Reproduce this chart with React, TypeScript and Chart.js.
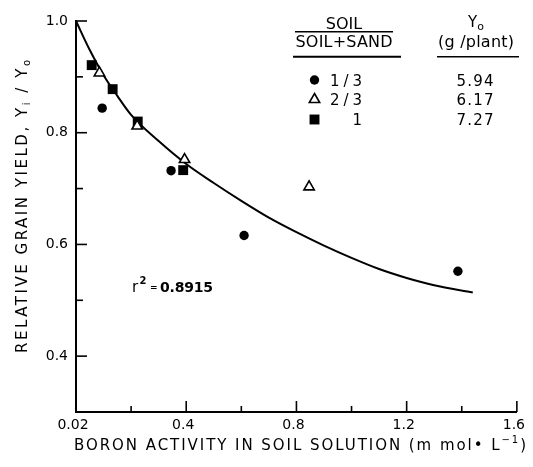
import React, { useEffect, useRef } from 'react';
import { Chart, registerables } from 'chart.js';

Chart.register(...registerables);

// ---- data ----
const soil13X = [0.095, 0.345, 0.61, 1.386];
const soil13Y = [0.844, 0.732, 0.616, 0.552];
const soil23X = [0.085, 0.222, 0.394, 0.846];
const soil23Y = [0.907, 0.812, 0.752, 0.703];
const soil1X = [0.057, 0.133, 0.224, 0.389];
const soil1Y = [0.921, 0.878, 0.82, 0.733];

const fitX = [0, 0.05, 0.1, 0.15, 0.2, 0.3, 0.4, 0.5, 0.6, 0.7, 0.8, 0.9, 1.0, 1.1, 1.2, 1.3, 1.44];
const fitY = [1.0, 0.948, 0.903, 0.866, 0.832, 0.785, 0.744, 0.71, 0.678, 0.648, 0.622, 0.598, 0.576, 0.556, 0.54, 0.527, 0.514];

const xTickValues = [0, 0.2, 0.4, 0.6, 0.8, 1.0, 1.2, 1.4, 1.6];
const xTickLabels = ['0.02', '', '0.4', '', '0.8', '', '1.2', '', '1.6'];
const yTickValues = [0.3, 0.4, 0.5, 0.6, 0.7, 0.8, 0.9, 1.0];
const yTickLabels = ['', '0.4', '', '0.6', '', '0.8', '', '1.0'];

const legendLabels = ['1/3', '2/3', '1'];
const legendY0 = ['5.94', '6.17', '7.27'];
const legendStyles = ['circle', 'triangle', 'square'];
const rSquared = '0.8915';

const FONT = '"DejaVu Sans", sans-serif';

type Seg = { t: string; size: number; dy: number; bold?: boolean };

function drawSegs(
  ctx: CanvasRenderingContext2D,
  segs: Seg[],
  x0: number,
  y0: number,
  target: number | null,
  align: 'left' | 'center' | 'right'
) {
  ctx.save();
  (ctx as any).letterSpacing = '0px';
  let sum = 0;
  let n = 0;
  const widths = segs.map((s) => {
    ctx.font = `${s.bold ? 'bold ' : ''}${s.size}px ${FONT}`;
    const w = ctx.measureText(s.t).width;
    sum += w;
    n += s.t.length;
    return w;
  });
  const sp = target != null && n > 1 ? (target - sum) / (n - 1) : 0;
  const total = sum + sp * (n - 1);
  let x = align === 'center' ? x0 - total / 2 : align === 'right' ? x0 - total : x0;
  ctx.textAlign = 'left';
  ctx.textBaseline = 'alphabetic';
  ctx.fillStyle = '#000';
  segs.forEach((s, i) => {
    ctx.font = `${s.bold ? 'bold ' : ''}${s.size}px ${FONT}`;
    (ctx as any).letterSpacing = `${sp}px`;
    ctx.fillText(s.t, x, y0 + s.dy);
    x += widths[i] + sp * s.t.length;
  });
  ctx.restore();
}

function drawMarker(ctx: CanvasRenderingContext2D, style: string, x: number, y: number) {
  ctx.save();
  ctx.fillStyle = '#000';
  ctx.strokeStyle = '#000';
  if (style === 'circle') {
    ctx.beginPath();
    ctx.arc(x, y, 4.7, 0, Math.PI * 2);
    ctx.fill();
  } else if (style === 'square') {
    const s = 7 * Math.SQRT1_2;
    ctx.fillRect(x - s, y - s, 2 * s, 2 * s);
  } else {
    const r = 6;
    ctx.beginPath();
    for (let k = 0; k < 3; k++) {
      const a = -Math.PI / 2 + (k * 2 * Math.PI) / 3;
      const px = x + r * Math.cos(a);
      const py = y + r * Math.sin(a);
      if (k === 0) ctx.moveTo(px, py);
      else ctx.lineTo(px, py);
    }
    ctx.closePath();
    ctx.fillStyle = '#fff';
    ctx.fill();
    ctx.lineWidth = 1.6;
    ctx.stroke();
  }
  ctx.restore();
}

const decorPlugin = {
  id: 'decor',
  afterDraw(chart: any) {
    const ctx: CanvasRenderingContext2D = chart.ctx;
    const xs = chart.scales.x;
    const ys = chart.scales.y;
    const area = chart.chartArea;
    ctx.save();
    ctx.strokeStyle = '#000';
    ctx.lineWidth = 1.6;
    // inward tick marks
    xs.ticks.forEach((t: any, i: number) => {
      const px = xs.getPixelForValue(t.value);
      const len = xTickLabels[i] ? 11 : 6;
      ctx.beginPath();
      ctx.moveTo(px, area.bottom);
      ctx.lineTo(px, area.bottom - len);
      ctx.stroke();
    });
    ys.ticks.forEach((t: any, i: number) => {
      const py = ys.getPixelForValue(t.value);
      const len = yTickLabels[i] ? 11 : 7;
      ctx.beginPath();
      ctx.moveTo(area.left, py);
      ctx.lineTo(area.left + len, py);
      ctx.stroke();
    });
    ctx.restore();

    // axis titles
    drawSegs(
      ctx,
      [
        { t: 'BORON ACTIVITY IN SOIL SOLUTION (m mol• L', size: 15, dy: 0 },
        { t: '−1', size: 10, dy: -7 },
        { t: ')', size: 15, dy: 0 },
      ],
      74,
      450,
      452,
      'left'
    );
    ctx.save();
    ctx.translate(27, 353);
    ctx.rotate(-Math.PI / 2);
    drawSegs(
      ctx,
      [
        { t: 'RELATIVE GRAIN YIELD, Y', size: 15, dy: 0 },
        { t: 'i', size: 10, dy: 3 },
        { t: ' / Y', size: 15, dy: 0 },
        { t: 'o', size: 10, dy: 3 },
      ],
      0,
      0,
      293,
      'left'
    );
    ctx.restore();

    // r^2
    drawSegs(ctx, [{ t: 'r', size: 15, dy: 0 }], 132, 292, null, 'left');
    drawSegs(ctx, [{ t: '2', size: 10, dy: 0, bold: true }], 139.5, 284, null, 'left');
    drawSegs(ctx, [{ t: '=', size: 9, dy: 0, bold: true }], 150, 290, null, 'left');
    drawSegs(ctx, [{ t: rSquared, size: 14, dy: 0, bold: true }], 160, 292, 53, 'left');

    // legend table
    drawSegs(ctx, [{ t: 'SOIL', size: 16, dy: 0 }], 344, 28.5, null, 'center');
    drawSegs(ctx, [{ t: 'SOIL+SAND', size: 16, dy: 0 }], 344, 46.5, 97, 'center');
    drawSegs(
      ctx,
      [
        { t: 'Y', size: 15, dy: 0 },
        { t: 'o', size: 11, dy: 3 },
      ],
      476,
      27,
      null,
      'center'
    );
    drawSegs(ctx, [{ t: '(g /plant)', size: 16, dy: 0 }], 476, 47, 76, 'center');
    ctx.save();
    ctx.strokeStyle = '#000';
    ctx.lineWidth = 1.4;
    ctx.beginPath();
    ctx.moveTo(295, 31.7);
    ctx.lineTo(393, 31.7);
    ctx.stroke();
    ctx.lineWidth = 2;
    ctx.beginPath();
    ctx.moveTo(293, 56.7);
    ctx.lineTo(401, 56.7);
    ctx.stroke();
    ctx.lineWidth = 1.4;
    ctx.beginPath();
    ctx.moveTo(437, 56.7);
    ctx.lineTo(519, 56.7);
    ctx.stroke();
    ctx.restore();
    const rowY = [80, 99.5, 119.5];
    legendLabels.forEach((lab, i) => {
      drawMarker(ctx, legendStyles[i], 314.5, rowY[i]);
      drawSegs(ctx, [{ t: lab, size: 15, dy: 0 }], 362, rowY[i] + 5.5, lab.length > 1 ? 32 : null, 'right');
      drawSegs(ctx, [{ t: legendY0[i], size: 15, dy: 0 }], 475, rowY[i] + 5.5, 37, 'center');
    });
  },
};

export default function App() {
  const ref = useRef<HTMLCanvasElement | null>(null);
  useEffect(() => {
    if (!ref.current) return;
    const pts = (xs: number[], ys: number[]) => xs.map((x, i) => ({ x, y: ys[i] }));
    const chart = new Chart(ref.current, {
      type: 'scatter',
      data: {
        datasets: [
          {
            label: '1/3',
            data: pts(soil13X, soil13Y),
            pointStyle: 'circle',
            pointRadius: 4.7,
            backgroundColor: '#000',
            borderColor: '#000',
            borderWidth: 0,
          },
          {
            label: '2/3',
            data: pts(soil23X, soil23Y),
            pointStyle: 'triangle',
            pointRadius: 6,
            backgroundColor: '#fff',
            borderColor: '#000',
            borderWidth: 1.6,
          },
          {
            label: '1',
            data: pts(soil1X, soil1Y),
            pointStyle: 'rect',
            pointRadius: 7,
            backgroundColor: '#000',
            borderColor: '#000',
            borderWidth: 0,
          },
          {
            label: 'fit',
            data: pts(fitX, fitY),
            showLine: true,
            pointRadius: 0,
            borderColor: '#000',
            borderWidth: 2,
            cubicInterpolationMode: 'monotone',
          } as any,
        ],
      },
      options: {
        animation: false,
        responsive: false,
        maintainAspectRatio: false,
        layout: { padding: { top: 21, right: 11, left: 0, bottom: 0 } },
        plugins: { legend: { display: false }, tooltip: { enabled: false } },
        elements: { point: { hoverRadius: 0 } },
        clip: false as any,
        scales: {
          x: {
            type: 'linear',
            min: 0,
            max: 1.6,
            afterBuildTicks: (s: any) => {
              s.ticks = xTickValues.map((v) => ({ value: v }));
            },
            afterFit: (s: any) => {
              s.height = 55;
            },
            ticks: {
              autoSkip: false,
              maxRotation: 0,
              padding: 5,
              labelOffset: -3,
              color: '#000',
              font: { family: FONT, size: 14 },
              callback: (_v: any, i: number) => xTickLabels[i],
            },
            grid: { display: false, drawTicks: false },
            border: { display: true, color: '#000', width: 2 },
          },
          y: {
            type: 'linear',
            min: 0.3,
            max: 1.0,
            afterBuildTicks: (s: any) => {
              s.ticks = yTickValues.map((v) => ({ value: v }));
            },
            afterFit: (s: any) => {
              s.width = 76;
            },
            ticks: {
              autoSkip: false,
              padding: 8,
              color: '#000',
              font: { family: FONT, size: 14 },
              callback: (_v: any, i: number) => yTickLabels[i],
            },
            grid: { display: false, drawTicks: false },
            border: { display: true, color: '#000', width: 2 },
          },
        },
      },
      plugins: [decorPlugin],
    });
    return () => chart.destroy();
  }, []);
  return (
    <div style={{ position: 'fixed', left: 0, top: 0, width: 533, height: 467, background: '#fff' }}>
      <canvas ref={ref} width={533} height={467} />
    </div>
  );
}
